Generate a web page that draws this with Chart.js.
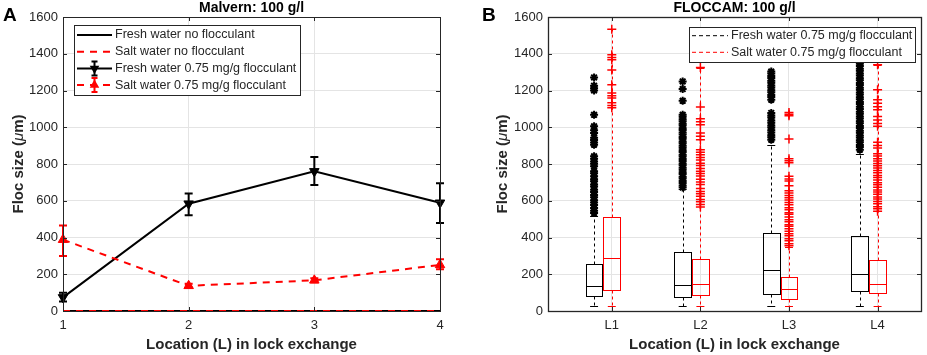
<!DOCTYPE html>
<html>
<head>
<meta charset="utf-8">
<script src="https://cdn.jsdelivr.net/npm/chart.js@4.4.0/dist/chart.umd.min.js"></script>
<style>
    body { margin: 0; background: #fff; }
    #wrap { position: relative; width: 927px; height: 355px; }
    #malvernChart { position: absolute; left: 0; top: 0; }
    #floccamChart { position: absolute; left: 460px; top: 0; }
</style>
</head>
<body>
<div id="wrap">
    <canvas id="malvernChart" width="460" height="355"></canvas>
    <canvas id="floccamChart" width="467" height="355"></canvas>
</div>
<script>
// Datos del panel A (Malvern)
const locations = [1, 2, 3, 4];
const freshNone = [0, 0, 0, 0];
const saltNone = [0, 0, 0, 0];
const freshFloc = [74, 584, 760, 589];
const freshFlocLow = [52, 521, 686, 479];
const freshFlocHigh = [100, 640, 838, 695];
const saltFloc = [388, 137, 167, 251];
const saltFlocLow = [300, 126, 156, 227];
const saltFlocHigh = [465, 148, 178, 282];
const malvernNames = ['Fresh water no flocculant', 'Salt water no flocculant',
    'Fresh water 0.75 mg/g flocculant', 'Salt water 0.75 mg/g flocculant'];

// Datos del panel B (FLOCCAM), estadísticos de cada caja
const locLabels = ['L1', 'L2', 'L3', 'L4'];
const freshMin = [27, 27, 27, 27];
const freshQ1 = [80, 76, 91, 109];
const freshMedian = [136, 142, 222, 204];
const freshQ3 = [254, 322, 427, 409];
const freshMax = [516, 665, 901, 856];
const saltMin = [27, 27, 27, 27];
const saltQ1 = [116, 87, 67, 96];
const saltMedian = [287, 149, 118, 145];
const saltQ3 = [513, 282, 185, 276];
const saltMax = [1533, 1325, 348, 1340];
const freshOutliers = [
    [534, 546, 561, 577, 590, 603, 619, 631, 648, 660, 677, 689, 706, 717, 734, 749, 761, 788, 801, 814, 829, 842, 905, 917, 931, 943, 969, 983, 1005, 1068, 1200, 1212, 1226, 1271],
    [672, 683, 697, 707, 721, 731, 745, 755, 769, 779, 793, 803, 817, 827, 841, 851, 865, 875, 889, 899, 913, 923, 937, 947, 961, 971, 985, 995, 1009, 1019, 1033, 1043, 1057, 1068, 1144, 1208, 1249],
    [932, 946, 957, 972, 983, 998, 1009, 1025, 1037, 1053, 1064, 1078, 1150, 1164, 1175, 1190, 1201, 1216, 1227, 1242, 1253, 1268, 1279, 1293, 1303],
    [878, 892, 903, 918, 929, 944, 955, 970, 981, 996, 1007, 1022, 1033, 1048, 1059, 1074, 1085, 1100, 1111, 1126, 1137, 1152, 1163, 1178, 1189, 1204, 1215, 1230, 1241, 1256, 1267, 1282, 1293, 1308, 1319, 1334, 1345, 1357, 1373, 1391]
];
const saltOutliers = [
    [1106, 1118, 1133, 1159, 1172, 1186, 1231, 1312, 1367, 1380, 1394, 1533],
    [566, 579, 595, 607, 624, 638, 651, 667, 688, 702, 717, 735, 748, 761, 776, 792, 804, 822, 836, 851, 864, 878, 932, 951, 969, 1014, 1030, 1046, 1110, 1325],
    [355, 366, 382, 393, 409, 421, 434, 447, 461, 470, 486, 497, 512, 526, 535, 551, 562, 578, 590, 604, 616, 629, 642, 655, 681, 707, 719, 733, 807, 818, 829, 936, 1063, 1071, 1080],
    [543, 557, 568, 584, 596, 609, 620, 636, 648, 659, 674, 687, 698, 713, 726, 737, 752, 765, 778, 790, 803, 817, 828, 843, 856, 887, 901, 918, 1005, 1021, 1040, 1059, 1095, 1112, 1130, 1150, 1204, 1340]
];
const floccamNames = ['Fresh water 0.75 mg/g flocculant', 'Salt water 0.75 mg/g flocculant'];

const fontFamily = '"Liberation Sans", Arial, sans-serif';
const axisColor = '#262626';
const gridColor = '#e4e4e4';
const red = '#ff0000';

// Convertir arrays a puntos {x, y}
function toPoints(xs, ys) {
    return xs.map(function (v, i) { return { x: v, y: ys[i] }; });
}

// Eje Y común a los dos paneles
function yAxis(width) {
    return {
        min: 0,
        max: 1600,
        ticks: {
            stepSize: 200, color: axisColor, font: { family: fontFamily, size: 13 }, padding: 5,
            callback: function (v) { return String(v); }
        },
        grid: { color: gridColor, drawTicks: false },
        border: { display: false },
        afterFit: function (scale) { scale.width = width; }
    };
}

function drawTriangle(ctx, x, y, r, down) {
    const s = down ? -1 : 1;
    ctx.beginPath();
    ctx.moveTo(x, y - s * r);
    ctx.lineTo(x + r * 0.87, y + s * r * 0.5);
    ctx.lineTo(x - r * 0.87, y + s * r * 0.5);
    ctx.closePath();
    ctx.fill();
}

// Marco, ticks hacia dentro, títulos y letra del panel
function drawDecor(chart, opts) {
    const ctx = chart.ctx;
    const a = chart.chartArea;
    const xs = chart.scales.x;
    const ys = chart.scales.y;
    ctx.save();
    ctx.strokeStyle = axisColor;
    ctx.lineWidth = 1;
    ctx.setLineDash([]);
    ctx.beginPath();
    xs.ticks.forEach(function (t) {
        const px = Math.round(xs.getPixelForValue(t.value)) + 0.5;
        ctx.moveTo(px, a.bottom); ctx.lineTo(px, a.bottom - 4);
        ctx.moveTo(px, a.top); ctx.lineTo(px, a.top + 4);
    });
    ys.ticks.forEach(function (t) {
        const py = Math.round(ys.getPixelForValue(t.value)) + 0.5;
        ctx.moveTo(a.left, py); ctx.lineTo(a.left + 4, py);
        ctx.moveTo(a.right, py); ctx.lineTo(a.right - 4, py);
    });
    ctx.stroke();
    ctx.lineWidth = opts.frameWidth;
    ctx.strokeRect(Math.round(a.left) + 0.5, Math.round(a.top) + 0.5,
        Math.round(a.right - a.left), Math.round(a.bottom - a.top));

    ctx.fillStyle = '#000';
    ctx.textBaseline = 'middle';
    ctx.textAlign = 'center';
    ctx.font = 'bold 14px ' + fontFamily;
    ctx.fillText(opts.title, (a.left + a.right) / 2, 8);
    ctx.font = 'bold 15px ' + fontFamily;
    ctx.fillStyle = axisColor;
    ctx.fillText('Location (L) in lock exchange', (a.left + a.right) / 2, 345);

    ctx.textAlign = 'left';
    ctx.fillStyle = '#000';
    ctx.font = 'bold 19px ' + fontFamily;
    ctx.fillText(opts.letter, opts.letterX, 16);

    // Título del eje Y con mu en cursiva
    const parts = [['bold 15px ', 'Floc size ('], ['italic 15px ', 'μ'], ['bold 15px ', 'm)']];
    let total = 0;
    parts.forEach(function (p) { ctx.font = p[0] + fontFamily; total += ctx.measureText(p[1]).width; });
    ctx.translate(opts.yTitleX, (a.top + a.bottom) / 2);
    ctx.rotate(-Math.PI / 2);
    ctx.fillStyle = axisColor;
    let x = -total / 2;
    parts.forEach(function (p) {
        ctx.font = p[0] + fontFamily;
        ctx.fillText(p[1], x, 0);
        x += ctx.measureText(p[1]).width;
    });
    ctx.restore();
}

// Leyenda dibujada dentro del área
function drawLegend(chart, box, rows) {
    const ctx = chart.ctx;
    ctx.save();
    ctx.fillStyle = '#fff';
    ctx.fillRect(box.x, box.y, box.w, box.h);
    ctx.strokeStyle = axisColor;
    ctx.lineWidth = 1;
    ctx.strokeRect(box.x + 0.5, box.y + 0.5, box.w, box.h);
    rows.forEach(function (r, i) {
        const y = box.y + box.first + i * box.step;
        const x0 = box.x + 3;
        const x1 = box.x + box.sample;
        ctx.strokeStyle = r.color;
        ctx.fillStyle = r.color;
        ctx.lineWidth = r.width;
        ctx.setLineDash(r.dash || []);
        ctx.beginPath();
        ctx.moveTo(x0, y); ctx.lineTo(x1, y);
        ctx.stroke();
        if (r.marker) {
            const mx = (x0 + x1) / 2;
            ctx.setLineDash([]);
            ctx.beginPath();
            ctx.moveTo(mx, y - 7); ctx.lineTo(mx, y + 7);
            ctx.moveTo(mx - 3, y - 7); ctx.lineTo(mx + 3, y - 7);
            ctx.moveTo(mx - 3, y + 7); ctx.lineTo(mx + 3, y + 7);
            ctx.stroke();
            drawTriangle(ctx, mx, y, 5.5, r.marker === 'down');
        }
        ctx.fillStyle = axisColor;
        ctx.font = '12.5px ' + fontFamily;
        ctx.textAlign = 'left';
        ctx.textBaseline = 'middle';
        ctx.fillText(r.label, x1 + 3, y);
    });
    ctx.restore();
}

// Barras de error del panel A
const errorBarsPlugin = {
    id: 'errorBars',
    beforeDatasetsDraw: function (chart) {
        const ctx = chart.ctx;
        const xs = chart.scales.x;
        const ys = chart.scales.y;
        ctx.save();
        chart.data.datasets.forEach(function (ds) {
            if (!ds.errLow) return;
            ctx.strokeStyle = ds.borderColor;
            ctx.lineWidth = 2;
            ctx.setLineDash([]);
            ctx.beginPath();
            locations.forEach(function (loc, i) {
                const px = xs.getPixelForValue(loc);
                const lo = ys.getPixelForValue(ds.errLow[i]);
                const hi = ys.getPixelForValue(ds.errHigh[i]);
                ctx.moveTo(px, lo); ctx.lineTo(px, hi);
                ctx.moveTo(px - 4, lo); ctx.lineTo(px + 4, lo);
                ctx.moveTo(px - 4, hi); ctx.lineTo(px + 4, hi);
            });
            ctx.stroke();
        });
        ctx.restore();
    },
    afterDraw: function (chart) {
        drawDecor(chart, { title: 'Malvern: 100 g/l', letter: 'A', letterX: 3, yTitleX: 19, frameWidth: 1 });
        drawLegend(chart, { x: 74, y: 25, w: 226, h: 70, first: 10, step: 16.7, sample: 38 }, [
            { label: malvernNames[0], color: '#000', width: 2 },
            { label: malvernNames[1], color: red, width: 2, dash: [7, 6] },
            { label: malvernNames[2], color: '#000', width: 2, marker: 'down' },
            { label: malvernNames[3], color: red, width: 2, dash: [7, 6], marker: 'up' }
        ]);
    }
};

// Cajas del panel B
const boxGroups = [
    { min: freshMin, q1: freshQ1, med: freshMedian, q3: freshQ3, max: freshMax, color: '#000', offset: -0.2 },
    { min: saltMin, q1: saltQ1, med: saltMedian, q3: saltQ3, max: saltMax, color: red, offset: 0 }
];
const boxPlotPlugin = {
    id: 'boxPlot',
    beforeDatasetsDraw: function (chart) {
        const ctx = chart.ctx;
        const xs = chart.scales.x;
        const ys = chart.scales.y;
        ctx.save();
        ctx.lineWidth = 1;
        boxGroups.forEach(function (g) {
            ctx.strokeStyle = g.color;
            locations.forEach(function (loc, i) {
                const c = loc + g.offset;
                const mid = Math.round(xs.getPixelForValue(c)) + 0.5;
                const left = Math.round(xs.getPixelForValue(c - 0.095)) + 0.5;
                const right = Math.round(xs.getPixelForValue(c + 0.095)) + 0.5;
                const capL = xs.getPixelForValue(c - 0.045);
                const capR = xs.getPixelForValue(c + 0.045);
                const yMin = Math.round(ys.getPixelForValue(g.min[i])) + 0.5;
                const yQ1 = Math.round(ys.getPixelForValue(g.q1[i])) + 0.5;
                const yMed = Math.round(ys.getPixelForValue(g.med[i])) + 0.5;
                const yQ3 = Math.round(ys.getPixelForValue(g.q3[i])) + 0.5;
                const yMax = Math.round(ys.getPixelForValue(g.max[i])) + 0.5;
                // bigotes discontinuos
                ctx.setLineDash([3, 3]);
                ctx.beginPath();
                ctx.moveTo(mid, yQ1); ctx.lineTo(mid, yMin);
                ctx.moveTo(mid, yQ3); ctx.lineTo(mid, yMax);
                ctx.stroke();
                ctx.setLineDash([]);
                ctx.beginPath();
                ctx.moveTo(capL, yMin); ctx.lineTo(capR, yMin);
                ctx.moveTo(capL, yMax); ctx.lineTo(capR, yMax);
                ctx.moveTo(left, yMed); ctx.lineTo(right, yMed);
                ctx.stroke();
                ctx.strokeRect(left, yQ3, right - left, yQ1 - yQ3);
            });
        });
        ctx.restore();
    },
    afterDraw: function (chart) {
        drawDecor(chart, { title: 'FLOCCAM: 100 g/l', letter: 'B', letterX: 22, yTitleX: 43, frameWidth: 1.3 });
        drawLegend(chart, { x: 229, y: 27, w: 226, h: 35, first: 8.7, step: 16.6, sample: 39 }, [
            { label: floccamNames[0], color: '#000', width: 1, dash: [4, 3] },
            { label: floccamNames[1], color: red, width: 1, dash: [4, 3] }
        ]);
    }
};

// Gráfico A: líneas con barras de error
new Chart(document.getElementById('malvernChart'), {
    type: 'line',
    data: {
        datasets: [
            { label: malvernNames[0], data: toPoints(locations, freshNone), borderColor: '#000', borderWidth: 2, pointRadius: 0, order: 4, clip: false },
            { label: malvernNames[1], data: toPoints(locations, saltNone), borderColor: red, borderWidth: 2, borderDash: [7, 6], pointRadius: 0, order: 3, clip: false },
            {
                label: malvernNames[2], data: toPoints(locations, freshFloc), errLow: freshFlocLow, errHigh: freshFlocHigh,
                borderColor: '#000', backgroundColor: '#000', borderWidth: 2,
                pointStyle: 'triangle', pointRotation: 180, pointRadius: 5.5, pointBorderWidth: 1, order: 2, clip: false
            },
            {
                label: malvernNames[3], data: toPoints(locations, saltFloc), errLow: saltFlocLow, errHigh: saltFlocHigh,
                borderColor: red, backgroundColor: red, borderWidth: 2, borderDash: [7, 6],
                pointStyle: 'triangle', pointRadius: 5.5, pointBorderWidth: 1, order: 1, clip: false
            }
        ]
    },
    options: {
        responsive: false,
        animation: false,
        layout: { padding: { top: 17, right: 20, left: 0, bottom: 0 } },
        plugins: { legend: { display: false }, tooltip: { enabled: false } },
        scales: {
            x: {
                type: 'linear', min: 1, max: 4,
                ticks: { stepSize: 1, color: axisColor, font: { family: fontFamily, size: 13 }, padding: 7 },
                grid: { color: gridColor, drawTicks: false },
                border: { display: false },
                afterFit: function (scale) { scale.height = 44; }
            },
            y: yAxis(63)
        }
    },
    plugins: [errorBarsPlugin]
});

// Gráfico B: diagramas de caja y valores atípicos
const freshPoints = [];
const saltPoints = [];
locations.forEach(function (loc, i) {
    freshOutliers[i].forEach(function (v) { freshPoints.push({ x: loc - 0.2, y: v }); });
    saltOutliers[i].forEach(function (v) { saltPoints.push({ x: loc, y: v }); });
});

new Chart(document.getElementById('floccamChart'), {
    type: 'scatter',
    data: {
        datasets: [
            { label: floccamNames[0], data: freshPoints, pointStyle: 'star', pointRadius: 4, borderColor: '#000', pointBorderWidth: 2 },
            { label: floccamNames[1], data: saltPoints, pointStyle: 'cross', pointRadius: 4.5, borderColor: red, pointBorderWidth: 1.5 }
        ]
    },
    options: {
        responsive: false,
        animation: false,
        layout: { padding: { top: 17, right: 4, left: 0, bottom: 0 } },
        plugins: { legend: { display: false }, tooltip: { enabled: false } },
        scales: {
            x: {
                type: 'linear', min: 0.28, max: 4.49,
                afterBuildTicks: function (scale) {
                    scale.ticks = locations.map(function (v) { return { value: v }; });
                },
                ticks: {
                    autoSkip: false, color: axisColor, font: { family: fontFamily, size: 13 }, padding: 7,
                    callback: function (v, i) { return locLabels[i]; }
                },
                grid: { color: gridColor, drawTicks: false },
                border: { display: false },
                afterFit: function (scale) { scale.height = 44; }
            },
            y: yAxis(88)
        }
    },
    plugins: [boxPlotPlugin]
});
</script>
</body>
</html>
